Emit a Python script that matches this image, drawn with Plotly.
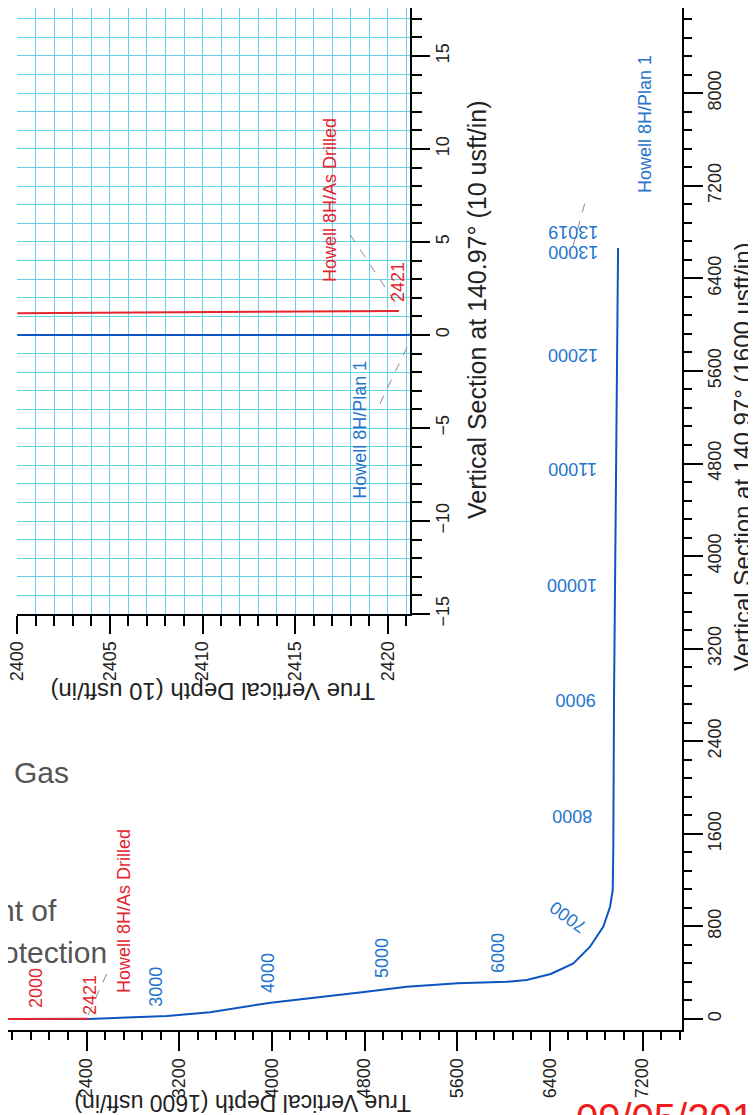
import plotly.graph_objects as go

W, H = 756, 1115
OFF = 8  # page body margin: figure pixel = screen pixel - OFF

# ---------------- data ----------------
# Howell 8H / Plan 1 (TVD, Vertical Section), usft
plan_tvd = [0, 2400, 2421, 2804, 3095, 3466, 3812, 3990, 4796, 5164, 5605,
            6028, 6200, 6408, 6603, 6747, 6862, 6920, 6943, 6948, 6954, 6989]
plan_vs = [0, 0, 0, 15, 26, 58, 112, 141, 233, 279, 308,
           322, 337, 389, 481, 625, 798, 970, 1115, 1489, 2756, 6662]

# Howell 8H / As Drilled
drilled_tvd = [0, 2400, 2420.6]
drilled_vs = [0, 1.17, 1.29]

# measured-depth labels along the plan (text, TVD, VS, angle)
md_text = ["3000", "4000", "5000", "6000", "7000", "8000", "9000",
           "10000", "11000", "12000", "13000", "13019"]
md_tvd = [2998, 3967, 4951, 5952, 6557, 6592, 6620, 6591, 6591, 6600, 6601, 6601]
md_vs = [276, 397, 527, 570, 881, 1754, 2756, 3750, 4752, 5738, 6628, 6800]
md_ang = [-90, -90, -90, -90, -144, 180, 180, 180, 180, 180, 180, 180]

# drilled-path labels (main)
dr_text = ["2000", "2421"]
dr_tvd = [1964, 2430]
dr_vs = [268, 207]

# tick settings
main_dtick, main_minor = 800, 160
inset_dtick, inset_minor = 5, 1

RED = "#e3262f"
BLUE_LINE = "#0b55c2"
BLUE_TXT = "#2474cc"
CYAN = "#62d2e6"
GREY_TXT = "#555555"
FONT = "Liberation Sans, Arial, sans-serif"

fig = go.Figure()

fig.add_trace(go.Scatter(x=plan_tvd, y=plan_vs, mode="lines",
                         line=dict(color=BLUE_LINE, width=2),
                         xaxis="x", yaxis="y", hoverinfo="skip", showlegend=False))
fig.add_trace(go.Scatter(x=drilled_tvd, y=drilled_vs, mode="lines",
                         line=dict(color=RED, width=2),
                         xaxis="x", yaxis="y", hoverinfo="skip", showlegend=False))
fig.add_trace(go.Scatter(x=plan_tvd, y=plan_vs, mode="lines",
                         line=dict(color=BLUE_LINE, width=2),
                         xaxis="x2", yaxis="y2", hoverinfo="skip", showlegend=False))
fig.add_trace(go.Scatter(x=drilled_tvd, y=drilled_vs, mode="lines",
                         line=dict(color=RED, width=2),
                         xaxis="x2", yaxis="y2", hoverinfo="skip", showlegend=False))


def base_axis(**kw):
    d = dict(showline=True, linecolor="black", linewidth=2, ticks="outside",
             tickcolor="black", tickwidth=2, tickangle=-90,
             tickfont=dict(size=18, color="#222", family=FONT),
             ticklabeloverflow="allow",
             zeroline=False, showgrid=False, fixedrange=True, automargin=False)
    d.update(kw)
    return d


def fx(px):  # screen x -> paper fraction
    return (px - OFF) / W


def fy(py):  # screen y -> paper fraction
    return 1 - (py - OFF) / H


fig.update_layout(
    template="none",
    width=W, height=H, autosize=False,
    margin=dict(l=0, r=0, t=0, b=0, pad=0),
    paper_bgcolor="white", plot_bgcolor="white",
    font=dict(family=FONT),
    showlegend=False,
    xaxis=base_axis(domain=[0, fx(682)], range=[1722, 7541], anchor="y",
                    dtick=main_dtick, tick0=0, ticklen=19,
                    minor=dict(dtick=main_minor, tick0=0, ticklen=8, tickwidth=1.5,
                               ticks="outside", tickcolor="black", showgrid=False)),
    yaxis=base_axis(domain=[fy(1030), 1], range=[-95, 8736], anchor="x",
                    side="right", dtick=main_dtick, tick0=0, ticklen=19,
                    ticklabelstandoff=-4,
                    minor=dict(dtick=main_minor, tick0=0, ticklen=8, tickwidth=1.5,
                               ticks="outside", tickcolor="black", showgrid=False)),
    xaxis2=base_axis(domain=[fx(17.3), fx(410)], range=[2400, 2421.2], anchor="y2",
                     dtick=inset_dtick, tick0=2400, ticklen=18,
                     showgrid=True, gridcolor=CYAN, gridwidth=1,
                     minor=dict(dtick=inset_minor, tick0=2400, ticklen=10, tickwidth=1.5,
                                ticks="outside", tickcolor="black",
                                showgrid=True, gridcolor=CYAN, gridwidth=1)),
    yaxis2=base_axis(domain=[fy(614), 1], range=[-15, 17.58], anchor="x2",
                     side="right", dtick=inset_dtick, tick0=0, ticklen=18,
                     ticklabelstandoff=-3,
                     showgrid=True, gridcolor=CYAN, gridwidth=1,
                     minor=dict(dtick=inset_minor, tick0=0, ticklen=10, tickwidth=1.5,
                                ticks="outside", tickcolor="black",
                                showgrid=True, gridcolor=CYAN, gridwidth=1)),
)

ann = []


def page_text(text, px, py, size, color, angle=0, xanchor="center", yanchor="middle"):
    ann.append(dict(text=text, x=fx(px), y=fy(py), xref="paper", yref="paper",
                    showarrow=False, textangle=angle, xanchor=xanchor, yanchor=yanchor,
                    font=dict(size=size, color=color, family=FONT)))


def data_text(text, x, y, size, color, angle, xref="x", yref="y"):
    ann.append(dict(text=text, x=x, y=y, xref=xref, yref=yref, showarrow=False,
                    textangle=angle, xanchor="center", yanchor="middle",
                    font=dict(size=size, color=color, family=FONT)))


# axis titles
page_text("True Vertical Depth (10 usft/in)", 213, 692, 24, "#222", angle=180)
page_text("Vertical Section at 140.97° (10 usft/in)", 477, 310, 25, "#222", angle=-90)
page_text("True Vertical Depth (1600 usft/in)", 243, 1103, 23, "#222", angle=180)
page_text("Vertical Section at 140.97° (1600 usft/in)", 743, 457, 24, "#222", angle=-90)

# background scanned page text (cut off)
page_text("Gas", 71, 772, 30, GREY_TXT, xanchor="right")
page_text("nt of", 59, 910, 30, GREY_TXT, xanchor="right")
page_text("otection", 109, 952, 30, GREY_TXT, xanchor="right")

# red date stamp at bottom (cut off)
page_text("09/05/2015", 574, 1094, 40, "#ee1c1c", xanchor="left", yanchor="top")

for t, xv, yv, a in zip(md_text, md_tvd, md_vs, md_ang):
    data_text(t, xv, yv, 18, BLUE_TXT, a)
for t, xv, yv in zip(dr_text, dr_tvd, dr_vs):
    data_text(t, xv, yv, 18, RED, -90)

data_text("Howell 8H/As Drilled", 2724, 933, 18, RED, -90)
data_text("Howell 8H/Plan 1", 7222, 7734, 18, BLUE_TXT, -90)

data_text("2421", 2420.55, 2.85, 18, RED, -90, "x2", "y2")
data_text("Howell 8H/As Drilled", 2416.88, 7.26, 18, RED, -90, "x2", "y2")
data_text("Howell 8H/Plan 1", 2418.5, -5.1, 18, BLUE_TXT, -90, "x2", "y2")

fig.update_layout(annotations=ann)

leaders = [
    ("x", "y", 2413, 35, 2577, 397),
    ("x", "y", 6597, 6671, 6710, 7077),
    ("x2", "y2", 2420.39, 1.77, 2417.80, 5.65),
    ("x2", "y2", 2421.04, -0.65, 2419.42, -4.03),
]
shapes = []
for xr, yr, x0, y0, x1, y1 in leaders:
    shapes.append(dict(type="line", xref=xr, yref=yr, x0=x0, y0=y0, x1=x1, y1=y1,
                       line=dict(color="#8a8a8a", width=1, dash="dash")))
fig.update_layout(shapes=shapes)

fig.write_html("out.html")
